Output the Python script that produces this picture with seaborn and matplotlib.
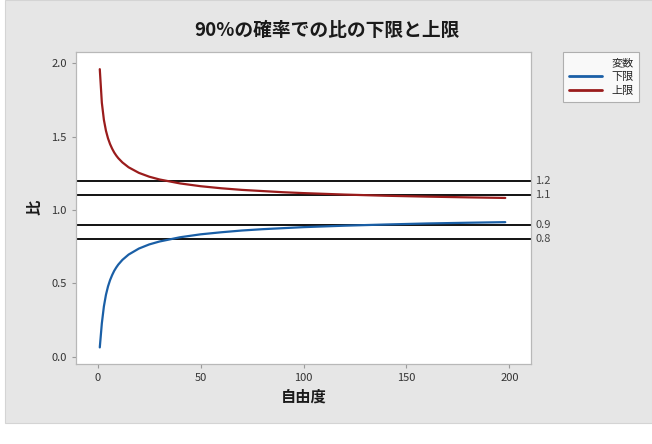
import matplotlib
matplotlib.use("Agg")
import matplotlib.pyplot as plt
import seaborn as sns
import pandas as pd
from matplotlib.patches import Rectangle
from matplotlib.lines import Line2D

# Data
df_vals = [1, 2, 3, 4, 5, 6, 7, 8, 9, 10, 12, 15, 20, 25, 30, 40, 50, 60, 70, 80,
           90, 100, 120, 140, 160, 180, 198]
lower = [0.063, 0.227, 0.343, 0.422, 0.479, 0.522, 0.556, 0.585, 0.608, 0.628,
         0.660, 0.696, 0.737, 0.765, 0.785, 0.814, 0.834, 0.848, 0.860, 0.869,
         0.876, 0.883, 0.893, 0.901, 0.908, 0.913, 0.917]
upper = [1.960, 1.731, 1.614, 1.540, 1.488, 1.449, 1.418, 1.392, 1.371, 1.353,
         1.324, 1.291, 1.253, 1.227, 1.208, 1.181, 1.162, 1.148, 1.137, 1.129,
         1.121, 1.115, 1.105, 1.097, 1.091, 1.086, 1.082]
ref_lines = [1.2, 1.1, 0.9, 0.8]
ref_labels = ["1.2", "1.1", "0.9", "0.8"]
series_names = ["下限", "上限"]
x_ticks = [0, 50, 100, 150, 200]
y_ticks = [0.0, 0.5, 1.0, 1.5, 2.0]

sns.set_style("white")
plt.rcParams['font.family'] = ['Noto Sans CJK JP', 'DejaVu Sans']

data = pd.DataFrame({
    "自由度": df_vals * 2,
    "比": lower + upper,
    "変数": [series_names[0]] * len(df_vals) + [series_names[1]] * len(df_vals),
})
colors = {"下限": "#1a5fa6", "上限": "#9a1c1c"}

fig = plt.figure(figsize=(6.52, 4.44), dpi=100, facecolor="white")
fig.patches.append(Rectangle((5 / 652, 1 - 423 / 444), 1 - 5 / 652, 423 / 444,
                             transform=fig.transFigure, facecolor="#e6e6e6",
                             edgecolor="#d4d4d4", lw=0.8, zorder=-10))
ax = fig.add_axes([75.7 / 652, 1 - 364 / 444, (531 - 75.7) / 652, (364 - 51.7) / 444])
ax.set_facecolor("white")

for v in ref_lines:
    ax.axhline(v, color="black", lw=1.3, zorder=1)

sns.lineplot(data=data, x="自由度", y="比", hue="変数", palette=colors, ax=ax,
             lw=1.6, legend=False, zorder=2)

ax.set_xlim(-10.7, 210.5)
ax.set_ylim(-0.05, 2.079)
ax.set_xticks(x_ticks)
ax.set_yticks(y_ticks)
ax.set_xticklabels([str(t) for t in x_ticks])
ax.set_yticklabels([f"{t:.1f}" for t in y_ticks])
ax.tick_params(axis="both", labelsize=8, colors="#9a9a9a", labelcolor="#333333",
               length=3, width=0.8, direction="out", bottom=True, left=True)
for s in ax.spines.values():
    s.set_color("#b8b8b8")
    s.set_linewidth(0.9)

ax.set_xlabel("自由度", fontsize=11, fontweight="bold", color="#1a1a1a", labelpad=4)
ax.set_ylabel("比", fontsize=11, fontweight="bold", color="#1a1a1a", labelpad=6)

for v, lab in zip(ref_lines, ref_labels):
    ax.annotate(lab, xy=(1.0, v), xycoords=("axes fraction", "data"),
                xytext=(3, 0), textcoords="offset points", va="center", ha="left",
                fontsize=8, color="#444444", annotation_clip=False)

fig.text(327 / 652, 1 - 30 / 444, "90%の確率での比の下限と上限", ha="center", va="center",
         fontsize=13.5, fontweight="bold", color="#1a1a1a")

handles = [Line2D([0], [0], color=colors[n], lw=2) for n in series_names]
leg = fig.legend(handles, series_names, title="変数", loc="upper left",
                 bbox_to_anchor=(562.7 / 652, 1 - 52.3 / 444), borderaxespad=0,
                 fontsize=8, title_fontsize=8, frameon=True, fancybox=False,
                 handlelength=3.0, borderpad=0.55, labelspacing=0.35,
                 handletextpad=0.8, alignment="right")
leg.get_frame().set_edgecolor("#a0a0a0")
leg.get_frame().set_linewidth(0.8)
leg.get_frame().set_facecolor("white")

fig.savefig("out.png", dpi=100, facecolor="white")
